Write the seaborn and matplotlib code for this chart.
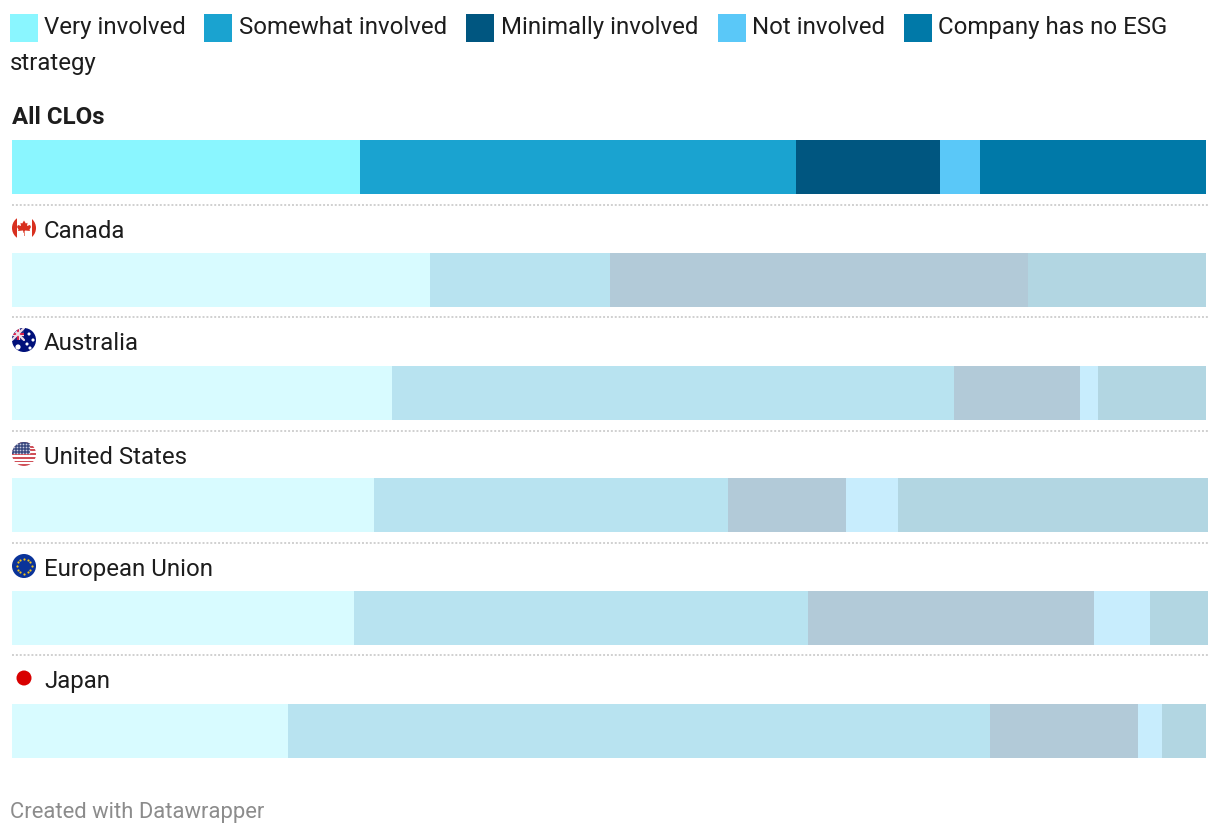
import numpy as np
import pandas as pd
import matplotlib
matplotlib.use("Agg")
import matplotlib.pyplot as plt
from matplotlib.patches import Circle, Rectangle, Polygon
import seaborn as sns

sns.set_theme(style="white")
plt.rcParams['font.family'] = ['Roboto', 'DejaVu Sans']

# Values (percent of respondents)
rows = ["All CLOs", "Canada", "Australia", "United States", "European Union", "Japan"]
very = [29.15, 35.0, 31.8, 30.3, 28.65, 23.1]
somewhat = [36.55, 15.1, 47.1, 29.7, 38.0, 58.8]
minimal = [12.0, 35.0, 10.55, 9.85, 23.95, 12.4]
not_involved = [3.4, 0.0, 1.5, 4.35, 4.7, 2.0]
no_strategy = [18.9, 14.9, 9.05, 26.0, 4.9, 3.7]

strong = ["#8AF6FF", "#1AA3D0", "#005680", "#5AC8F8", "#0079A8"]
pale = ["#D8FBFF", "#B8E3F0", "#B2CAD8", "#C8EDFD", "#B2D6E2"]
legend_labels = ["Very involved", "Somewhat involved", "Minimally involved", "Not involved"]

W, H = 1220, 834
fig = plt.figure(figsize=(W / 100, H / 100), dpi=100)

# bars axes, row centres 112.8px apart
ax = fig.add_axes([12 / W, 1 - 787.4 / H, 1205.94 / W, 676.8 / H])
df = pd.DataFrame({"row": rows, "a": very, "b": somewhat, "c": minimal, "d": not_involved, "e": no_strategy})
cum = df[["a", "b", "c", "d", "e"]].cumsum(axis=1)

# layered from the longest total down so each segment shows
for j, col in reversed(list(enumerate(cum.columns))):
    sns.barplot(data=cum, x=col, y=df["row"], hue=df["row"], palette=[strong[j]] + [pale[j]] * 5,
                saturation=1, width=54 / 112.8, linewidth=0, legend=False, ax=ax)
ax.set_xlim(0, 101)
ax.set_ylim(5.5, -0.5)
ax.axis("off")

# overlay in pixel coordinates for labels, legend, flags
ov = fig.add_axes([0, 0, 1, 1], facecolor="none")
ov.set_xlim(0, W)
ov.set_ylim(H, 0)
ov.axis("off")

TXT = "#1D1D1D"
FS = 17.27

# legend
swatch_x = [10, 204, 466, 718, 904]
label_x = [44, 239, 501, 752, 938]
for sx, lx, c, lab in zip(swatch_x, label_x, strong, legend_labels + ["Company has no ESG"]):
    ov.add_patch(Rectangle((sx, 14), 28, 28, color=c, lw=0))
    ov.text(lx, 34, lab, fontsize=FS, color=TXT, va="baseline")
ov.text(10, 70, "strategy", fontsize=FS, color=TXT, va="baseline")

# row labels and separators
label_y = [124, 238, 350, 464, 576, 688]
for name, y in zip(rows, label_y):
    if name == "All CLOs":
        ov.text(12, y, name, fontsize=FS, color=TXT, fontweight="bold", va="baseline")
    else:
        ov.text(44, y, name, fontsize=FS, color=TXT, va="baseline")
for y in [205, 317, 431, 543, 655]:
    ov.plot([12, 1208], [y, y], color="#D0D0D0", lw=1.4, ls=(0, (1, 1)))


def flag_base(cx, cy, color):
    clip = Circle((cx, cy), 12, transform=ov.transData, fc=color, lw=0)
    ov.add_patch(clip)
    return clip


def clipped_rect(clip, x, y, w, h, color):
    r = Rectangle((x, y), w, h, color=color, lw=0)
    ov.add_patch(r)
    r.set_clip_path(clip)


# Canada
c = flag_base(24, 228, "white")
clipped_rect(c, 12, 216, 4.5, 24, "#D8301F")
clipped_rect(c, 31.5, 216, 4.5, 24, "#D8301F")
leaf = [(24, 220.5), (25.8, 223.5), (27.5, 222.8), (27, 226), (30, 225), (31, 227), (29.5, 229.5),
        (30, 231), (25, 230.5), (24.4, 233), (23.6, 233), (23, 230.5), (18, 231), (18.5, 229.5),
        (17, 227), (18, 225), (21, 226), (20.5, 222.8), (22.2, 223.5)]
ov.add_patch(Polygon(leaf, closed=True, fc="#D8301F", lw=0))
clipped_rect(c, 23.5, 231, 1, 5, "#E88070")

# Australia
c = flag_base(24, 340, "#00107A")
clipped_rect(c, 12, 328, 12, 12, "#2A2A80")
for p0, p1 in [((12, 328), (24, 340)), ((24, 328), (12, 340))]:
    l = ov.plot([p0[0], p1[0]], [p0[1], p1[1]], color="#F0E0E8", lw=1.6)[0]
    l.set_clip_path(c)
clipped_rect(c, 12, 332.5, 12, 3, "#F0E0E8")
clipped_rect(c, 16.5, 328, 3, 12, "#F0E0E8")
clipped_rect(c, 12, 333.2, 12, 1.6, "#D8204A")
clipped_rect(c, 17.2, 328, 1.6, 12, "#D8204A")
ov.scatter([18, 29, 33, 27, 30], [347, 334, 340, 344, 348], s=[14, 5, 5, 5, 5], color="white", lw=0)

# United States
c = flag_base(24, 454, "white")
for k in range(0, 7):
    clipped_rect(c, 12, 442 + k * 3.7, 24, 1.85, "#D05058")
clipped_rect(c, 12, 442, 18, 12, "#3A4A80")
for gx in np.arange(14, 30, 3):
    for gy in np.arange(444, 454, 3):
        d = ov.scatter([gx], [gy], s=1.5, color="#C8CCE0", lw=0)
        d.set_clip_path(c)

# European Union
flag_base(24, 566, "#0A3399")
angles = np.arange(12) * np.pi / 6
ov.scatter(24 + 7.5 * np.cos(angles), 566 + 7.5 * np.sin(angles), s=2.5, color="#F5C518", lw=0)

# Japan
ov.add_patch(Circle((24, 678), 7.5, fc="#D80000", lw=0))

ov.text(10, 818, "Created with Datawrapper", fontsize=15.8, color="#8C8C8C", va="baseline")

fig.savefig("out.png", dpi=100)
